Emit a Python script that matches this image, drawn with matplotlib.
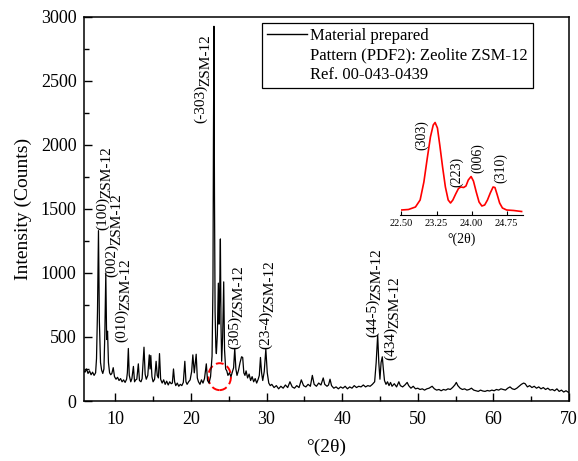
import matplotlib
matplotlib.use('Agg')
import numpy as np
from matplotlib import pyplot as plt
from matplotlib.patches import Ellipse
from matplotlib.lines import Line2D
from matplotlib.ticker import MultipleLocator, FormatStrFormatter

plt.rcParams['font.family'] = 'Liberation Serif'

# diffractogram, split in three ranges
tth_low = [5.8, 6.0, 6.2, 6.4, 6.6, 6.8, 7.0, 7.2, 7.4, 7.52, 7.65, 7.78, 7.9, 8.05, 8.2, 8.35, 8.5,
           8.62, 8.75, 8.86, 8.98, 9.1, 9.25, 9.4, 9.55, 9.73, 9.9, 10.1, 10.3, 10.5, 10.7, 10.9, 11.1,
           11.3, 11.5, 11.6, 11.73, 11.85, 12.05, 12.2, 12.4, 12.55, 12.7, 12.85, 13.05, 13.2, 13.4,
           13.55, 13.8, 13.95, 14.1, 14.3, 14.5, 14.6, 14.7, 14.85, 15.0, 15.2, 15.4, 15.55, 15.7, 15.85,
           16.0, 16.2, 16.4, 16.6, 16.8, 17.0, 17.2, 17.4, 17.55, 17.7, 17.85, 18.0, 18.2, 18.4, 18.6,
           18.8, 19.0, 19.2, 19.35, 19.5, 19.7, 19.9, 20.1, 20.26, 20.45, 20.7, 20.85, 21.0, 21.2, 21.4,
           21.6, 21.8, 22.04, 22.2, 22.4]
cnt_low = [240, 225, 250, 215, 235, 205, 225, 200, 220, 330, 700, 1330, 620, 300, 240, 215, 250,
           520, 1000, 480, 545, 300, 220, 205, 215, 260, 190, 170, 185, 160, 175, 150, 165,
           145, 170, 220, 410, 200, 150, 175, 270, 150, 165, 170, 290, 160, 150,
           175, 420, 210, 170, 200, 360, 250, 355, 190, 150, 170, 310, 200, 180, 370,
           170, 140, 165, 130, 155, 125, 150, 135, 140, 250, 150, 120, 140, 115, 130,
           120, 145, 310, 150, 130, 150, 165, 230, 360, 220, 365, 180, 150, 130, 165,
           140, 175, 290, 160, 140]

tth_mid = [22.6, 22.8, 22.92, 22.98, 23.05, 23.12, 23.2, 23.3, 23.37, 23.5, 23.63, 23.72, 23.8, 23.9,
           23.98, 24.07, 24.2, 24.34, 24.45, 24.6, 24.75, 24.9, 25.1, 25.3, 25.5, 25.65, 25.8, 25.95,
           26.1, 26.3, 26.5, 26.7, 26.85, 27.0, 27.15, 27.3, 27.5, 27.7, 27.9, 28.1, 28.3, 28.5, 28.7,
           28.9, 29.05, 29.2, 29.35, 29.5, 29.7, 29.91, 30.1, 30.3, 30.5]
cnt_mid = [190, 350, 900, 2000, 2925, 1600, 700, 420, 370, 520, 920, 600, 800, 1265,
           600, 310, 500, 930, 400, 250, 235, 200, 220, 190, 230, 260, 410, 250,
           200, 240, 300, 345, 340, 220, 200, 235, 180, 210, 160, 190, 150, 175, 140,
           170, 200, 340, 220, 160, 230, 405, 220, 140, 120]

tth_high = [30.7, 31.0, 31.3, 31.6, 31.9, 32.2, 32.5, 32.8, 33.1, 33.4, 33.7, 34.0, 34.3, 34.6, 34.9,
            35.2, 35.5, 35.8, 36.06, 36.3, 36.6, 36.9, 37.2, 37.5, 37.7, 38.0, 38.2, 38.4, 38.6, 38.9,
            39.2, 39.5, 39.8, 40.1, 40.4, 40.7, 41.0, 41.3, 41.6, 41.9, 42.2, 42.5, 42.8, 43.1, 43.4,
            43.7, 44.0, 44.3, 44.5, 44.7, 44.85, 45.0, 45.15, 45.31, 45.45, 45.6, 45.8, 46.0, 46.2,
            46.4, 46.6, 46.9, 47.2, 47.5, 47.7, 48.0, 48.3, 48.6, 48.8, 49.1, 49.4, 49.7, 50.0, 50.3,
            50.6, 50.9, 51.2, 51.5, 51.9, 52.2, 52.5, 52.8, 53.1, 53.4, 53.7, 54.0, 54.3, 54.6, 54.9,
            55.1, 55.3, 55.6, 55.9, 56.2, 56.5, 56.8, 57.1, 57.4, 57.7, 58.0, 58.3, 58.6, 58.9, 59.2,
            59.5, 59.8, 60.1, 60.4, 60.7, 61.0, 61.3, 61.6, 61.9, 62.2, 62.5, 62.8, 63.1, 63.4, 63.7,
            64.0, 64.2, 64.5, 64.8, 65.1, 65.4, 65.7, 66.0, 66.3, 66.6, 66.9, 67.2, 67.5, 67.8, 68.1,
            68.4, 68.7, 69.0, 69.3, 69.6, 70.0]
cnt_high = [130, 105, 120, 95, 115, 100, 125, 105, 150, 110, 100, 120, 105, 165, 120,
            110, 130, 115, 200, 130, 115, 140, 125, 180, 130, 115, 125, 170, 120, 100,
            110, 95, 110, 100, 115, 95, 110, 100, 120, 105, 115, 110, 125, 110, 120,
            115, 130, 150, 300, 515, 300, 170, 300, 345, 250, 160, 130, 150, 120,
            145, 115, 135, 110, 150, 120, 110, 125, 145, 120, 100, 115, 95, 100, 90,
            95, 85, 95, 100, 115, 95, 85, 90, 80, 90, 85, 95, 90, 105, 125,
            145, 120, 100, 90, 95, 85, 90, 100, 85, 80, 75, 85, 78, 75, 82,
            78, 85, 80, 90, 85, 95, 90, 85, 100, 110, 95, 90, 100, 115, 130,
            140, 135, 110, 120, 105, 115, 100, 110, 95, 105, 90, 100, 85, 90, 80,
            95, 75, 85, 70, 80, 65]

# zoomed (inset) region, arbitrary counts
ins_tth = [22.50, 22.65, 22.80, 22.90, 22.98, 23.05, 23.12, 23.18, 23.22, 23.27, 23.32, 23.38, 23.44,
           23.50, 23.55, 23.60, 23.66, 23.72, 23.77, 23.83, 23.88, 23.93, 23.99, 24.04, 24.10, 24.16,
           24.22, 24.28, 24.34, 24.40, 24.46, 24.50, 24.55, 24.60, 24.66, 24.75, 24.90, 25.07]
ins_cnt = [50, 55, 80, 150, 330, 560, 780, 900, 925, 870, 700, 480, 280,
           150, 120, 150, 210, 265, 280, 275, 290, 350, 385, 340, 230, 130,
           90, 100, 150, 220, 280, 275, 200, 120, 70, 50, 45, 35]

peak_hkl = ['(100)', '(002)', '(010)', '(-303)', '(305)', '(23-4)', '(44-5)', '(434)']
ins_hkl = ['(303)', '(223)', '(006)', '(310)']

tth = np.concatenate([tth_low, tth_mid, tth_high])
cnt = np.concatenate([cnt_low, cnt_mid, cnt_high])

fig = plt.figure(figsize=(5.78, 4.61), dpi=100)
ax = fig.add_axes([83.5/578, 60/461, 485.5/578, 384.3/461])
ax.plot(tth, cnt, color='k', lw=0.9)
ax.set_xlim(5.8, 70)
ax.set_ylim(0, 3000)
ax.xaxis.set_major_locator(MultipleLocator(10))
ax.xaxis.set_minor_locator(MultipleLocator(5))
ax.yaxis.set_major_locator(MultipleLocator(500))
ax.yaxis.set_minor_locator(MultipleLocator(250))
ax.tick_params(which='both', direction='in', width=1, labelsize=13)
ax.tick_params(which='major', length=6)
ax.tick_params(which='minor', length=3.5)
ax.tick_params(axis='x', pad=7)
ax.tick_params(axis='y', pad=5)
for s in ax.spines.values():
    s.set_linewidth(1.1)
ax.set_xlabel('°(2θ)', fontsize=14, labelpad=8)
ax.set_ylabel('Intensity (Counts)', fontsize=14, labelpad=6)

# peak labels: hkl + subscript
label_xy = [(8.75, 1336), (10.0, 969), (11.25, 461), (21.8, 2172),
            (26.2, 406), (30.3, 406), (44.45, 500), (46.85, 320)]
for hkl, (x, y) in zip(peak_hkl, label_xy):
    t = ax.text(x, y, hkl, rotation=90, rotation_mode='anchor', ha='left', va='baseline', fontsize=11)
    ax.annotate('ZSM-12', xy=(1, 1), xycoords=t, xytext=(1.0, -1), textcoords='offset points',
                rotation=90, rotation_mode='anchor', ha='left', va='baseline', fontsize=11)

ax.add_patch(Ellipse((23.8, 190), width=3.0, height=210, fill=False, ec='red',
                     ls=(0, (4, 2)), lw=1.4))

handles = [Line2D([], [], color='k', lw=1), Line2D([], [], color='none'), Line2D([], [], color='none')]
labels = ['Material prepared', 'Pattern (PDF2): Zeolite ZSM-12', 'Ref. 00-043-0439']
leg = ax.legend(handles, labels, loc='upper right', bbox_to_anchor=(0.925, 0.983), fontsize=12,
                frameon=True, fancybox=False, framealpha=1, edgecolor='k', handlelength=2.4,
                handletextpad=0.2, labelspacing=0.2, borderpad=0.3, borderaxespad=0)
leg.get_frame().set_linewidth(0.9)

# inset
axin = fig.add_axes([400.5/578, 246/461, 122.5/578, 105/461])
axin.patch.set_alpha(0)
axin.plot(ins_tth, ins_cnt, color='red', lw=1.2)
axin.set_xlim(22.48, 25.1)
axin.set_ylim(0, 1050)
for side in ['left', 'top', 'right']:
    axin.spines[side].set_visible(False)
axin.set_yticks([])
axin.set_xticks([22.5, 23.25, 24.0, 24.75])
axin.xaxis.set_major_formatter(FormatStrFormatter('%.2f'))
axin.tick_params(direction='in', length=3, labelsize=7.5, pad=3)
axin.set_xlabel('°(2θ)', fontsize=10, labelpad=3)
ins_xy = [(22.93, 650), (23.69, 283), (24.12, 417), (24.63, 320)]
for hkl, (x, y) in zip(ins_hkl, ins_xy):
    axin.text(x, y, hkl, rotation=90, ha='center', va='bottom', fontsize=10)

fig.savefig('out.png', dpi=100)
